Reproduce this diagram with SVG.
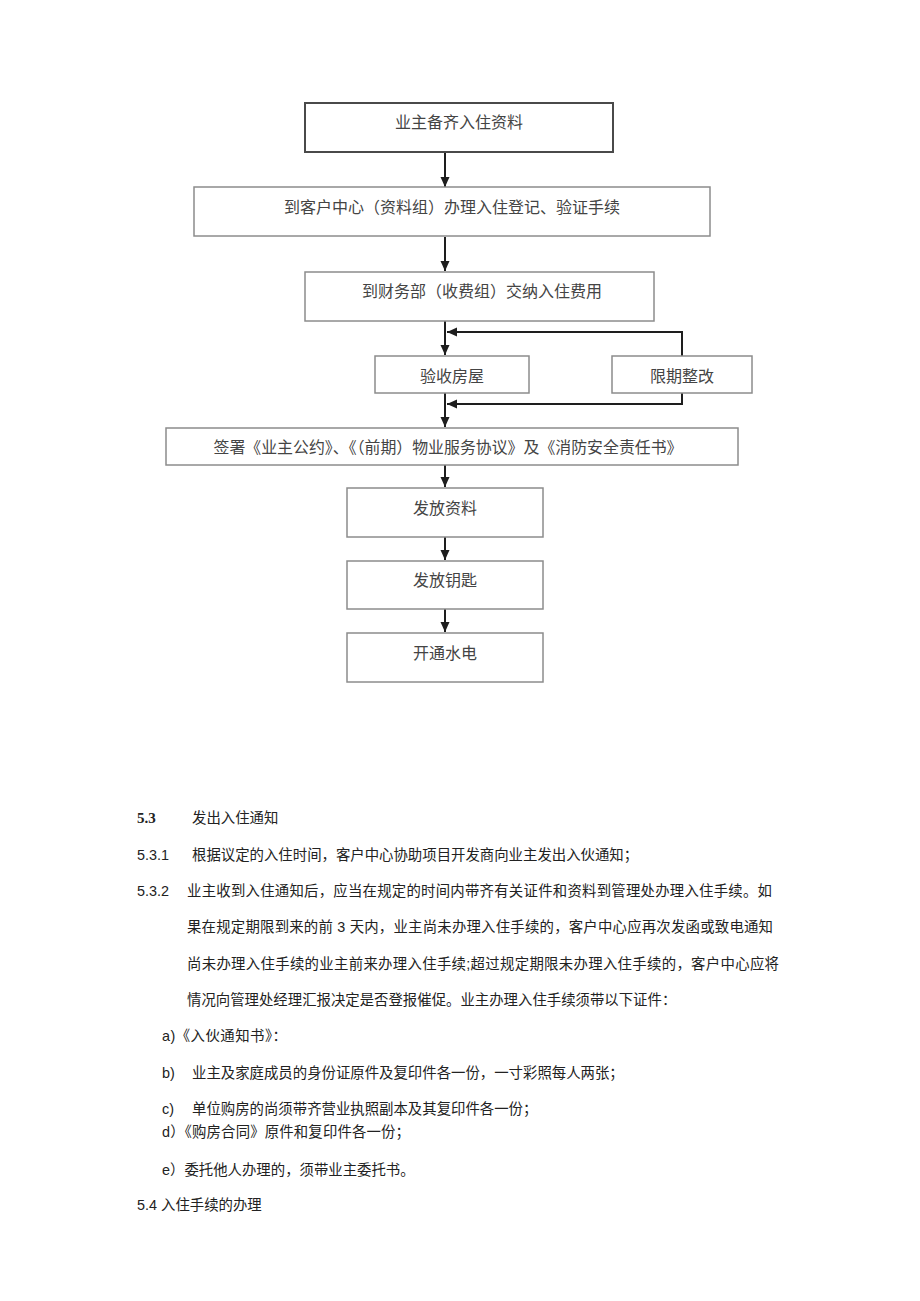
<svg xmlns="http://www.w3.org/2000/svg" width="920" height="1301" viewBox="0 0 920 1301">
<defs>
<marker id="arr" markerUnits="userSpaceOnUse" markerWidth="10" markerHeight="10" refX="10" refY="5" orient="auto">
<path d="M0,0.5 L10,5 L0,9.5 z" fill="#1e1e1e"/>
</marker>
<style>
.box{fill:#ffffff;stroke:#8c8c8c;stroke-width:1.5}
.box1{fill:#ffffff;stroke:#4a4a4a;stroke-width:2}
.bt{font-family:"Liberation Serif","Noto Sans CJK SC",serif;font-size:16px;fill:#444;text-anchor:middle}
.con{fill:none;stroke:#1e1e1e;stroke-width:2}
.p{font-family:"Liberation Sans","Noto Sans CJK SC",sans-serif;font-size:14.4px;fill:#222}
.h{font-family:"Liberation Serif","Noto Sans CJK SC",serif;font-size:15px;font-weight:bold;fill:#222}
</style>
</defs>
<rect width="920" height="1301" fill="#ffffff"/>

<g id="connectors">
<line class="con" x1="445" y1="153" x2="445" y2="187" marker-end="url(#arr)"/>
<line class="con" x1="445" y1="237" x2="445" y2="271" marker-end="url(#arr)"/>
<line class="con" x1="445" y1="321" x2="445" y2="355" marker-end="url(#arr)"/>
<line class="con" x1="445" y1="393" x2="445" y2="427" marker-end="url(#arr)"/>
<line class="con" x1="445" y1="465" x2="445" y2="487" marker-end="url(#arr)"/>
<line class="con" x1="445" y1="537" x2="445" y2="560" marker-end="url(#arr)"/>
<line class="con" x1="445" y1="609" x2="445" y2="632" marker-end="url(#arr)"/>
<polyline class="con" points="682,356 682,332 447,332" marker-end="url(#arr)"/>
<polyline class="con" points="682,393 682,404 447,404" marker-end="url(#arr)"/>
</g>

<g id="n1"><rect class="box1" x="305" y="103" width="308" height="49"/><text class="bt" x="459" y="128">业主备齐入住资料</text></g>
<g id="n2"><rect class="box" x="194" y="187" width="516" height="49"/><text class="bt" x="452" y="213">到客户中心（资料组）办理入住登记、验证手续</text></g>
<g id="n3"><rect class="box" x="305" y="272" width="349" height="49"/><text class="bt" x="482" y="297">到财务部（收费组）交纳入住费用</text></g>
<g id="n4"><rect class="box" x="375" y="356" width="154" height="37"/><text class="bt" x="452" y="382">验收房屋</text></g>
<g id="n5"><rect class="box" x="612" y="356" width="140" height="37"/><text class="bt" x="682" y="382">限期整改</text></g>
<g id="n6"><rect class="box" x="166" y="428" width="572" height="37"/><text class="bt" x="448" y="453" textLength="469" lengthAdjust="spacingAndGlyphs">签署《业主公约》、《（前期）物业服务协议》及《消防安全责任书》</text></g>
<g id="n7"><rect class="box" x="347" y="488" width="196" height="49"/><text class="bt" x="445" y="514">发放资料</text></g>
<g id="n8"><rect class="box" x="347" y="561" width="196" height="48"/><text class="bt" x="445" y="586">发放钥匙</text></g>
<g id="n9"><rect class="box" x="347" y="633" width="196" height="49"/><text class="bt" x="445" y="659">开通水电</text></g>

<g id="body">
<text class="h" x="137" y="823">5.3</text>
<text class="p" x="192" y="823">发出入住通知</text>
<text class="p" x="137" y="860">5.3.1</text>
<text class="p" x="192" y="860">根据议定的入住时间，客户中心协助项目开发商向业主发出入伙通知；</text>
<text class="p" x="137" y="896">5.3.2</text>
<text class="p" x="187" y="896" textLength="585" lengthAdjust="spacing">业主收到入住通知后，应当在规定的时间内带齐有关证件和资料到管理处办理入住手续。如</text>
<text class="p" x="187" y="932" textLength="586" lengthAdjust="spacing">果在规定期限到来的前 3 天内，业主尚未办理入住手续的，客户中心应再次发函或致电通知</text>
<text class="p" x="187" y="969" textLength="592" lengthAdjust="spacing">尚未办理入住手续的业主前来办理入住手续;超过规定期限未办理入住手续的，客户中心应将</text>
<text class="p" x="187" y="1005">情况向管理处经理汇报决定是否登报催促。业主办理入住手续须带以下证件：</text>
<text class="p" x="162" y="1041" textLength="125" lengthAdjust="spacing">a)《入伙通知书》：</text>
<text class="p" x="162" y="1078">b)</text>
<text class="p" x="192" y="1078">业主及家庭成员的身份证原件及复印件各一份，一寸彩照每人两张；</text>
<text class="p" x="162" y="1114">c)</text>
<text class="p" x="192" y="1114">单位购房的尚须带齐营业执照副本及其复印件各一份；</text>
<text class="p" x="162" y="1137" textLength="248" lengthAdjust="spacing">d）《购房合同》原件和复印件各一份；</text>
<text class="p" x="162" y="1175">e）委托他人办理的，须带业主委托书。</text>
<text class="p" x="137" y="1210">5.4 入住手续的办理</text>
</g>
</svg>
